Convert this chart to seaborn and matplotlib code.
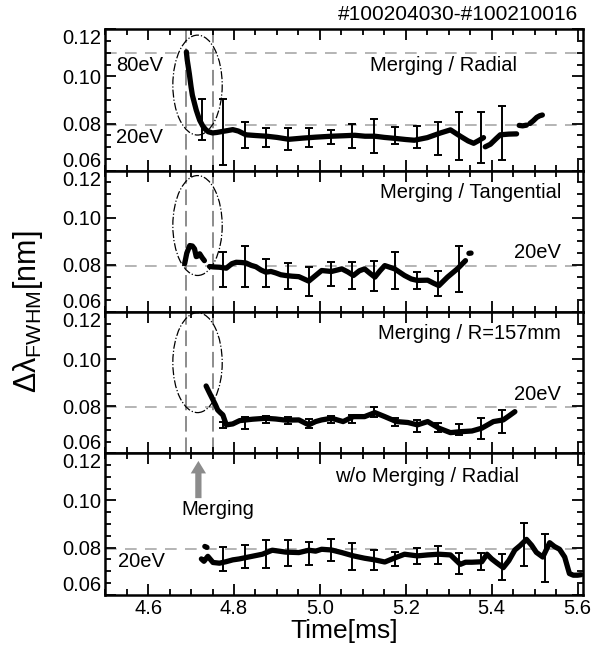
import numpy as np
import pandas as pd
import matplotlib
matplotlib.use("Agg")
import matplotlib.pyplot as plt
from matplotlib.patches import Ellipse
from matplotlib.ticker import MultipleLocator
import seaborn as sns

# --- data ---
panel_titles = ["Merging / Radial", "Merging / Tangential",
                "Merging / R=157mm", "w/o Merging / Radial"]

# Merging / Radial : line segments
rad_t = [[4.689, 4.691, 4.696, 4.700, 4.703, 4.708, 4.712, 4.716, 4.720, 4.727,
          4.733, 4.740, 4.750, 4.760, 4.772, 4.785, 4.797, 4.810, 4.828, 4.850,
          4.876, 4.900, 4.928, 4.960, 4.990, 5.027, 5.055, 5.081, 5.105, 5.128,
          5.150, 5.174, 5.200, 5.220, 5.250, 5.281, 5.304, 5.327, 5.345, 5.358,
          5.370, 5.381],
         [5.385, 5.397, 5.410, 5.420, 5.440, 5.458],
         [5.464, 5.472, 5.481],
         [5.489, 5.497, 5.505, 5.512, 5.518]]
rad_v = [[0.1104, 0.1070, 0.1010, 0.0955, 0.0920, 0.0885, 0.0857, 0.0835, 0.0814, 0.0790,
          0.0776, 0.0765, 0.0760, 0.0762, 0.0766, 0.0770, 0.0774, 0.0768, 0.0752, 0.0749,
          0.0746, 0.0741, 0.0733, 0.0738, 0.0742, 0.0746, 0.0748, 0.0750, 0.0746, 0.0746,
          0.0741, 0.0737, 0.0732, 0.0729, 0.0740, 0.0760, 0.0773, 0.0746, 0.0726, 0.0716,
          0.0728, 0.0740],
         [0.0701, 0.0712, 0.0735, 0.0752, 0.0755, 0.0756],
         [0.0792, 0.0790, 0.0793],
         [0.0800, 0.0812, 0.0826, 0.0833, 0.0836]]
rad_err_t = [4.725, 4.775, 4.825, 4.875, 4.925, 4.975, 5.025, 5.075, 5.125, 5.175,
             5.225, 5.275, 5.325, 5.375, 5.425]
rad_err_lo = [0.0729, 0.0623, 0.0694, 0.0702, 0.0688, 0.0701, 0.0714, 0.0694, 0.0676, 0.0714,
              0.0694, 0.0666, 0.0644, 0.0633, 0.0644]
rad_err_hi = [0.0906, 0.0906, 0.0807, 0.0783, 0.0783, 0.0779, 0.0772, 0.0797, 0.0821, 0.0786,
              0.0789, 0.0807, 0.0849, 0.0849, 0.0874]

# Merging / Tangential
tan_t = [[4.685, 4.690, 4.697, 4.703, 4.708, 4.712, 4.716, 4.720, 4.726, 4.731],
         [4.743, 4.755, 4.766, 4.782, 4.795, 4.805, 4.817, 4.828, 4.840, 4.851,
          4.863, 4.874, 4.886, 4.897, 4.909, 4.920, 4.935, 4.951, 4.974, 4.990,
          5.004, 5.027, 5.051, 5.065, 5.078, 5.092, 5.104, 5.116, 5.128, 5.140,
          5.151, 5.174, 5.197, 5.213, 5.227, 5.251, 5.265, 5.277, 5.297, 5.320,
          5.339],
         [5.347, 5.352]]
tan_v = [[0.0805, 0.0850, 0.0882, 0.0880, 0.0868, 0.0835, 0.0838, 0.0847, 0.0830, 0.0818],
         [0.0793, 0.0791, 0.0790, 0.0786, 0.0805, 0.0811, 0.0810, 0.0808, 0.0798, 0.0792,
          0.0778, 0.0769, 0.0772, 0.0766, 0.0758, 0.0755, 0.0752, 0.0750, 0.0731, 0.0755,
          0.0776, 0.0772, 0.0783, 0.0770, 0.0755, 0.0775, 0.0783, 0.0765, 0.0748, 0.0775,
          0.0797, 0.0783, 0.0755, 0.0740, 0.0734, 0.0735, 0.0722, 0.0712, 0.0748, 0.0783,
          0.0818],
         [0.0849, 0.0850]]
tan_err_t = [4.775, 4.825, 4.875, 4.925, 4.975, 5.025, 5.075, 5.125, 5.175, 5.225,
             5.275, 5.325]
tan_err_lo = [0.0705, 0.0708, 0.0705, 0.0696, 0.0670, 0.0712, 0.0698, 0.0691, 0.0698, 0.0698,
              0.0666, 0.0684]
tan_err_hi = [0.0853, 0.0882, 0.0823, 0.0809, 0.0790, 0.0811, 0.0811, 0.0815, 0.0853, 0.0769,
              0.0772, 0.0882]

# Merging / R=157mm
r157_t = [[4.735, 4.743, 4.751, 4.757, 4.762, 4.768, 4.774, 4.782, 4.797, 4.813,
           4.828, 4.843, 4.858, 4.874, 4.897, 4.920, 4.951, 4.974, 4.990, 5.004,
           5.027, 5.054, 5.078, 5.104, 5.128, 5.151, 5.178, 5.205, 5.227, 5.251,
           5.277, 5.304, 5.327, 5.354, 5.377, 5.404, 5.427, 5.441, 5.454]]
r157_v = [[0.0886, 0.0856, 0.0827, 0.0805, 0.0784, 0.0773, 0.0763, 0.0721, 0.0725, 0.0739,
           0.0742, 0.0745, 0.0747, 0.0749, 0.0746, 0.0741, 0.0742, 0.0721, 0.0735, 0.0742,
           0.0749, 0.0735, 0.0756, 0.0756, 0.0773, 0.0756, 0.0735, 0.0731, 0.0721, 0.0735,
           0.0707, 0.0688, 0.0692, 0.0695, 0.0707, 0.0735, 0.0742, 0.0760, 0.0777]]
r157_err_t = [4.775, 4.825, 4.875, 4.925, 4.975, 5.025, 5.075, 5.125, 5.175, 5.225,
              5.275, 5.325, 5.375, 5.425]
r157_err_lo = [0.0707, 0.0702, 0.0728, 0.0725, 0.0707, 0.0728, 0.0731, 0.0753, 0.0716, 0.0692,
               0.0692, 0.0678, 0.0660, 0.0688]
r157_err_hi = [0.0735, 0.0753, 0.0758, 0.0753, 0.0745, 0.0759, 0.0763, 0.0796, 0.0749, 0.0742,
               0.0728, 0.0725, 0.0749, 0.0784]

# w/o Merging / Radial
wo_t = [[4.732, 4.737],
        [4.724, 4.730, 4.739, 4.751, 4.766, 4.781, 4.797, 4.812, 4.828, 4.847,
         4.866, 4.889, 4.905, 4.920, 4.951, 4.974, 4.990, 5.004, 5.027, 5.051,
         5.078, 5.104, 5.128, 5.151, 5.174, 5.197, 5.227, 5.251, 5.277, 5.304,
         5.327, 5.339, 5.354, 5.377, 5.389, 5.400, 5.412, 5.427, 5.440, 5.454,
         5.467, 5.481, 5.493, 5.504, 5.519, 5.535, 5.546, 5.558, 5.570, 5.581,
         5.590, 5.600, 5.608]]
wo_v = [[0.0805, 0.0801],
        [0.0752, 0.0742, 0.0763, 0.0737, 0.0734, 0.0740, 0.0748, 0.0752, 0.0758, 0.0765,
         0.0772, 0.0789, 0.0785, 0.0781, 0.0779, 0.0789, 0.0785, 0.0793, 0.0790, 0.0779,
         0.0765, 0.0755, 0.0748, 0.0739, 0.0756, 0.0772, 0.0765, 0.0769, 0.0772, 0.0769,
         0.0729, 0.0738, 0.0738, 0.0740, 0.0772, 0.0752, 0.0735, 0.0715, 0.0745, 0.0790,
         0.0810, 0.0835, 0.0810, 0.0780, 0.0760, 0.0821, 0.0805, 0.0793, 0.0760, 0.0690,
         0.0683, 0.0683, 0.0685]]
wo_err_t = [4.775, 4.825, 4.875, 4.925, 4.975, 5.025, 5.075, 5.125, 5.175, 5.225,
            5.275, 5.325, 5.375, 5.425, 5.475, 5.525]
wo_err_lo = [0.0701, 0.0715, 0.0715, 0.0722, 0.0725, 0.0743, 0.0705, 0.0705, 0.0720, 0.0729,
             0.0729, 0.0687, 0.0705, 0.0663, 0.0722, 0.0652]
wo_err_hi = [0.0804, 0.0810, 0.0832, 0.0832, 0.0824, 0.0838, 0.0818, 0.0790, 0.0781, 0.0797,
             0.0807, 0.0776, 0.0776, 0.0772, 0.0906, 0.0856]

# reference levels and the merging window
level_20eV = 0.0795
level_80eV = 0.110
merge_start, merge_end = 4.687, 4.750
ellipse_y = [0.0963, 0.0967, 0.0985]

panels = [(rad_t, rad_v, rad_err_t, rad_err_lo, rad_err_hi),
          (tan_t, tan_v, tan_err_t, tan_err_lo, tan_err_hi),
          (r157_t, r157_v, r157_err_t, r157_err_lo, r157_err_hi),
          (wo_t, wo_v, wo_err_t, wo_err_lo, wo_err_hi)]


def to_frame(ts, vs):
    rows = []
    for k, (tt, vv) in enumerate(zip(ts, vs)):
        for a, b in zip(tt, vv):
            rows.append((a, b, k))
    return pd.DataFrame(rows, columns=["t", "v", "seg"])


sns.set_theme(style="ticks")
plt.rcParams["font.family"] = ["Liberation Sans", "DejaVu Sans"]
plt.rcParams["mathtext.fontset"] = "custom"
plt.rcParams["mathtext.rm"] = "Liberation Sans"
plt.rcParams["mathtext.it"] = "Liberation Sans"
for key in ["text.color", "axes.labelcolor", "xtick.color", "ytick.color"]:
    plt.rcParams[key] = "black"

fs = 14.5  # annotation / tick font size

fig, axes = plt.subplots(4, 1, figsize=(5.91, 6.5), dpi=100, sharex=True)
fig.subplots_adjust(left=0.178, right=0.986, top=0.955, bottom=0.085, hspace=0)

gray_dash = dict(color="#a8a8a8", lw=1.2, dashes=(7, 5))

for i, ax in enumerate(axes):
    ts, vs, et, elo, ehi = panels[i]
    df = to_frame(ts, vs)
    sns.lineplot(data=df, x="t", y="v", units="seg", estimator=None, sort=False,
                 color="black", lw=3.8, ax=ax, legend=False)
    elo = np.array(elo)
    ehi = np.array(ehi)
    ax.errorbar(et, (elo + ehi) / 2, yerr=(ehi - elo) / 2, fmt="none",
                ecolor="black", elinewidth=1.4, capsize=2.8, capthick=1.4)

    ax.axhline(level_20eV, zorder=0, **gray_dash)
    if i == 0:
        ax.axhline(level_80eV, zorder=0, **gray_dash)

    if i < 3:
        for xv in (merge_start, merge_end):
            ax.axvline(xv, color="#8c8c8c", lw=1.4, dashes=(8, 3), zorder=0)
        ax.add_patch(Ellipse((4.715, ellipse_y[i]), width=0.115, height=0.0424,
                             fill=False, ec="black", lw=0.9, ls="-."))

    ax.set_xlim(4.5, 5.612)
    ax.set_ylim(0.06, 0.12)
    ax.set_yticks([0.06, 0.08, 0.10, 0.12])
    ax.set_yticklabels(["0.06", "0.08", "0.10", "0.12"])
    ax.yaxis.set_minor_locator(MultipleLocator(0.005))
    ax.xaxis.set_major_locator(MultipleLocator(0.2))
    ax.xaxis.set_minor_locator(MultipleLocator(0.05))
    ax.tick_params(which="both", direction="in", top=True, right=True,
                   labelsize=fs, width=1.3, color="black", pad=3)
    ax.tick_params(which="major", length=8)
    ax.tick_params(which="minor", length=4)
    for sp in ax.spines.values():
        sp.set_linewidth(1.8)
        sp.set_color("black")
    ax.set_xlabel("")
    ax.set_ylabel("")
    labels = ax.get_yticklabels()
    labels[0].set_verticalalignment("bottom")
    labels[-1].set_verticalalignment("top")

# panel annotations
axes[0].text(5.458, 0.1047, panel_titles[0], ha="right", va="center", fontsize=fs)
axes[0].text(4.526, 0.1047, "80eV", ha="left", va="center", fontsize=fs)
axes[0].text(4.526, 0.0742, "20eV", ha="left", va="center", fontsize=fs)
axes[1].text(5.562, 0.1107, panel_titles[1], ha="right", va="center", fontsize=fs)
axes[1].text(5.562, 0.0852, "20eV", ha="right", va="center", fontsize=fs)
axes[2].text(5.562, 0.1110, panel_titles[2], ha="right", va="center", fontsize=fs)
axes[2].text(5.562, 0.0848, "20eV", ha="right", va="center", fontsize=fs)
axes[3].text(5.463, 0.1102, panel_titles[3], ha="right", va="center", fontsize=fs)
axes[3].text(4.530, 0.0742, "20eV", ha="left", va="center", fontsize=fs)

axes[3].annotate("", xy=(4.717, 0.1168), xytext=(4.717, 0.1010),
                 arrowprops=dict(facecolor="#8c8c8c", edgecolor="none",
                                 width=4.5, headwidth=11, headlength=9))
axes[3].text(4.762, 0.0960, "Merging", ha="center", va="center", fontsize=fs)

axes[3].set_xticks([4.6, 4.8, 5.0, 5.2, 5.4, 5.6])
axes[3].set_xticklabels(["4.6", "4.8", "5.0", "5.2", "5.4", "5.6"])
axes[3].set_xlabel("Time[ms]", fontsize=19, labelpad=1)

fig.text(0.048, 0.52, r"Δλ$_{\mathrm{FWHM}}$[nm]", rotation=90,
         ha="center", va="center", fontsize=22)
fig.text(0.978, 0.977, "#100204030-#100210016", ha="right", va="center", fontsize=15)

fig.savefig("out.png", dpi=100)
